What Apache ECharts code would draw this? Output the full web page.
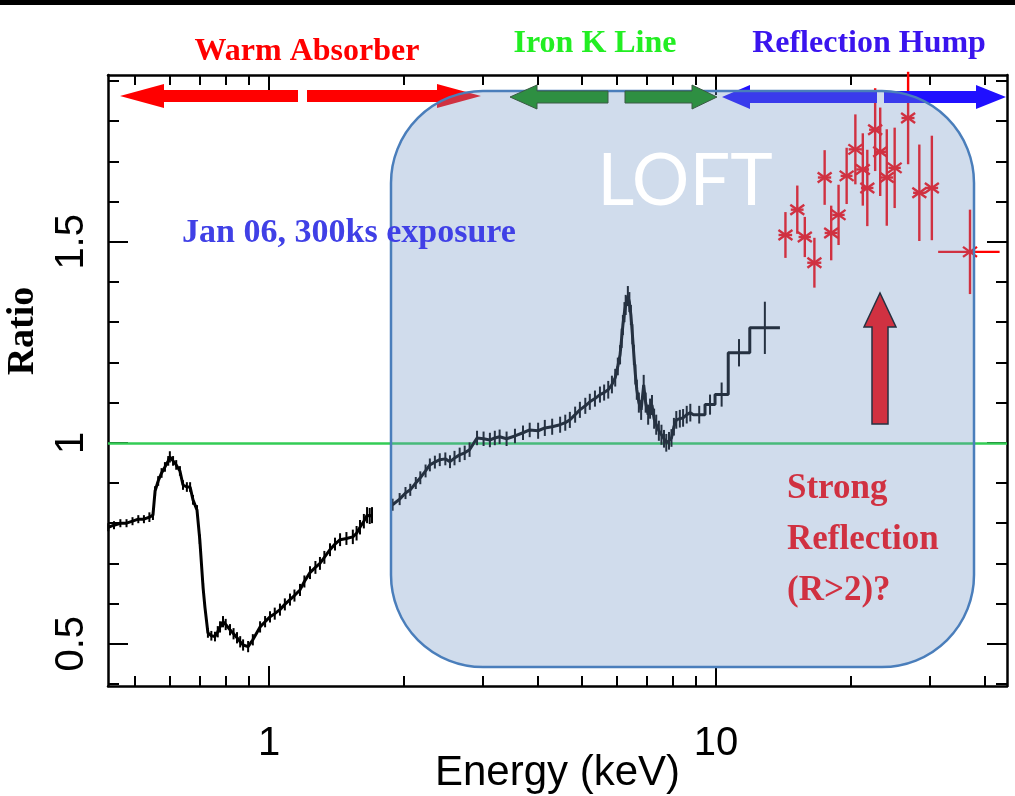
<!DOCTYPE html>
<html lang="en">
<head>
<meta charset="UTF-8">
<script src="https://cdn.jsdelivr.net/npm/echarts@6/dist/echarts.min.js"></script>
<title>Ratio vs Energy</title>
<style>
    html, body { margin: 0; padding: 0; background: #fff; }
    #main { width: 1015px; height: 796px; }
</style>
</head>
<body>
<div id="main"></div>
<script>
    // axis ranges and ticks
    var xMin = 0.4363, xMax = 44.77;
    var yMin = 0.395, yMax = 1.915;
    var xMajorTicks = [1, 10];
    var xMinorTicks = [0.5, 0.6, 0.7, 0.8, 0.9, 2, 3, 4, 5, 6, 7, 8, 9, 20, 30, 40];
    var yMajorTicks = [0.5, 1, 1.5];
    var yMinorTicks = [0.4, 0.6, 0.7, 0.8, 0.9, 1.1, 1.2, 1.3, 1.4, 1.6, 1.7, 1.8, 1.9];

    // soft band spectrum (black)
    var softE = [0.437, 0.45, 0.465, 0.48, 0.495, 0.51, 0.525, 0.54, 0.55, 0.556, 0.565, 0.575, 0.585, 0.595, 0.60,
        0.61, 0.62, 0.632, 0.642, 0.655, 0.666, 0.676, 0.69, 0.70, 0.712, 0.719, 0.73, 0.743, 0.757, 0.768,
        0.777, 0.789, 0.80, 0.818, 0.833, 0.848, 0.862, 0.875, 0.898, 0.92, 0.955, 0.98, 1.005, 1.03, 1.058,
        1.085, 1.114, 1.14, 1.173, 1.2, 1.235, 1.27, 1.3, 1.33, 1.369, 1.405, 1.442, 1.49, 1.54, 1.57,
        1.598, 1.63, 1.657, 1.68, 1.70];
    var softR = [0.79, 0.795, 0.80, 0.80, 0.805, 0.81, 0.81, 0.815, 0.82, 0.88, 0.905, 0.925, 0.94, 0.955, 0.965,
        0.955, 0.945, 0.93, 0.895, 0.89, 0.89, 0.858, 0.833, 0.76, 0.64, 0.59, 0.527, 0.52, 0.518, 0.53,
        0.542, 0.555, 0.548, 0.535, 0.525, 0.515, 0.505, 0.497, 0.493, 0.51, 0.542, 0.555, 0.567, 0.575, 0.585,
        0.598, 0.61, 0.62, 0.634, 0.655, 0.677, 0.69, 0.70, 0.715, 0.734, 0.748, 0.759, 0.762, 0.766, 0.775,
        0.79, 0.805, 0.82, 0.818, 0.82];
    var softErr = [0.01, 0.01, 0.01, 0.01, 0.01, 0.01, 0.01, 0.012, 0.012, 0.012, 0.012, 0.012, 0.012, 0.012, 0.014,
        0.012, 0.012, 0.012, 0.012, 0.012, 0.012, 0.012, 0.012, 0.012, 0.012, 0.012, 0.012, 0.012, 0.012, 0.014,
        0.014, 0.014, 0.014, 0.014, 0.014, 0.014, 0.014, 0.014, 0.014, 0.014, 0.014, 0.014, 0.014, 0.015, 0.015,
        0.015, 0.015, 0.015, 0.015, 0.015, 0.016, 0.016, 0.016, 0.016, 0.016, 0.016, 0.016, 0.016, 0.018, 0.018,
        0.018, 0.018, 0.02, 0.02, 0.02];

    // hard band spectrum (black, seen through the LOFT box)
    var hardE = [1.89, 1.96, 2.02, 2.07, 2.13, 2.18, 2.24, 2.29, 2.35, 2.41, 2.48, 2.54, 2.6, 2.67, 2.74,
        2.81, 2.92, 3.02, 3.12, 3.2, 3.28, 3.4, 3.55, 3.7, 3.83, 4.0, 4.14, 4.3, 4.48, 4.6,
        4.71, 4.84, 4.96, 5.1, 5.22, 5.36, 5.5, 5.62, 5.74, 5.85, 5.95, 6.03, 6.10, 6.15, 6.19,
        6.24, 6.28, 6.35, 6.40, 6.45, 6.50, 6.55, 6.60, 6.65, 6.72, 6.80, 6.89, 6.96, 7.05, 7.12,
        7.19, 7.27, 7.35, 7.45, 7.55, 7.65, 7.74, 7.85, 7.95, 8.05, 8.15, 8.3, 8.44, 8.6, 8.76];
    var hardR = [0.846, 0.86, 0.875, 0.883, 0.9, 0.913, 0.93, 0.945, 0.952, 0.958, 0.96, 0.953, 0.962, 0.97, 0.975,
        0.983, 1.012, 1.01, 1.007, 1.012, 1.015, 1.01, 1.017, 1.025, 1.032, 1.03, 1.037, 1.04, 1.045, 1.05,
        1.057, 1.07, 1.082, 1.092, 1.102, 1.11, 1.12, 1.125, 1.132, 1.145, 1.162, 1.19, 1.219, 1.26, 1.293,
        1.325, 1.343, 1.365, 1.35, 1.318, 1.27, 1.219, 1.17, 1.132, 1.1, 1.082, 1.144, 1.1, 1.07, 1.085,
        1.094, 1.06, 1.045, 1.03, 1.02, 1.01, 1.0, 1.005, 1.012, 1.04, 1.057, 1.06, 1.062, 1.07, 1.075];
    var hardErr = [0.015, 0.015, 0.015, 0.015, 0.015, 0.016, 0.016, 0.016, 0.016, 0.016, 0.016, 0.016, 0.018, 0.018, 0.018,
        0.018, 0.018, 0.018, 0.018, 0.018, 0.018, 0.018, 0.018, 0.018, 0.018, 0.02, 0.02, 0.02, 0.02, 0.02,
        0.02, 0.02, 0.02, 0.02, 0.02, 0.02, 0.02, 0.02, 0.022, 0.022, 0.022, 0.022, 0.024, 0.024, 0.025,
        0.025, 0.025, 0.025, 0.025, 0.025, 0.025, 0.025, 0.025, 0.025, 0.025, 0.025, 0.025, 0.025, 0.025, 0.025,
        0.025, 0.025, 0.025, 0.025, 0.025, 0.022, 0.022, 0.022, 0.022, 0.022, 0.022, 0.022, 0.022, 0.022, 0.022];

    // wide bins at the top of the hard band
    var binLo = [8.9, 9.45, 9.95, 10.65, 11.9];
    var binHi = [9.45, 9.95, 10.65, 11.9, 13.9];
    var binR = [1.07, 1.095, 1.12, 1.224, 1.286];
    var binErr = [0.022, 0.025, 0.03, 0.034, 0.065];

    // high energy points (red)
    var redE = [14.3, 15.2, 15.8, 16.6, 17.5, 18.1, 18.8, 19.6, 20.5, 21.3, 21.8, 22.7, 23.3, 24.1, 25.1, 26.9, 28.5, 30.4, 37.0];
    var redR = [1.517, 1.58, 1.512, 1.448, 1.66, 1.522, 1.567, 1.664, 1.73, 1.68, 1.634, 1.779, 1.724, 1.66, 1.684, 1.808, 1.622, 1.634, 1.475];
    var redErr = [0.057, 0.06, 0.05, 0.062, 0.068, 0.068, 0.075, 0.07, 0.087, 0.09, 0.095, 0.103, 0.11, 0.12, 0.1, 0.115, 0.12, 0.13, 0.105];
    var redLo = [13.8, 14.7, 15.3, 16.0, 16.9, 17.5, 18.2, 19.0, 19.8, 20.6, 21.1, 22.0, 22.6, 23.3, 24.3, 26.0, 27.6, 29.4, 31.4];
    var redHi = [14.8, 15.7, 16.3, 17.2, 18.1, 18.7, 19.4, 20.2, 21.2, 22.0, 22.5, 23.4, 24.0, 24.9, 25.9, 27.8, 29.4, 31.4, 43.1];

    var unityLine = 1;

    // ---- build series data ----
    var softData = softE.map(function (e, i) { return [e, softR[i]]; });
    var hardData = hardE.map(function (e, i) { return [e, hardR[i]]; });
    binLo.forEach(function (lo, i) {
        hardData.push([lo, binR[i]]);
        hardData.push([binHi[i], binR[i]]);
    });
    var errData = [];
    softE.forEach(function (e, i) { errData.push([e, softR[i] - softErr[i], softR[i] + softErr[i]]); });
    hardE.forEach(function (e, i) { errData.push([e, hardR[i] - hardErr[i], hardR[i] + hardErr[i]]); });
    binLo.forEach(function (lo, i) {
        var c = Math.sqrt(lo * binHi[i]);
        errData.push([c, binR[i] - binErr[i], binR[i] + binErr[i]]);
    });
    var redData = redE.map(function (e, i) { return [e, redR[i], redErr[i], redLo[i], redHi[i]]; });

    function renderErr(params, api) {
        var a = api.coord([api.value(0), api.value(1)]);
        var b = api.coord([api.value(0), api.value(2)]);
        return {
            type: 'line',
            shape: { x1: a[0], y1: a[1], x2: b[0], y2: b[1] },
            style: { stroke: '#000', lineWidth: 2 }
        };
    }

    function seg(p, q, st) {
        return { type: 'line', shape: { x1: p[0], y1: p[1], x2: q[0], y2: q[1] }, style: st };
    }

    function renderRed(params, api) {
        var e = api.value(0), r = api.value(1), err = api.value(2);
        var c = api.coord([e, r]);
        var t = api.coord([e, r + err]);
        var b = api.coord([e, r - err]);
        var l = api.coord([api.value(3), r]);
        var h = api.coord([api.value(4), r]);
        var st = { stroke: '#ff0000', lineWidth: 2.4 };
        var sx = 7, sy = 5;
        return {
            type: 'group',
            children: [
                seg(t, b, st),
                seg(l, h, st),
                seg([c[0] - sx, c[1] - sy], [c[0] + sx, c[1] + sy], st),
                seg([c[0] - sx, c[1] + sy], [c[0] + sx, c[1] - sy], st)
            ]
        };
    }

    // ---- annotations ----
    function hArrow(tail, tip, cy, headLen, shaftHalf, headHalf) {
        var dir = tip > tail ? 1 : -1;
        var base = tip - dir * headLen;
        return [[tail, cy - shaftHalf], [base, cy - shaftHalf], [base, cy - headHalf], [tip, cy],
            [base, cy + headHalf], [base, cy + shaftHalf], [tail, cy + shaftHalf]];
    }

    var serifBold = '"Liberation Serif", "Times New Roman", serif';

    function label(text, x, y, size, color, extra) {
        var el = {
            type: 'text', x: x, y: y, z: 120, silent: true,
            style: {
                text: text, fill: color,
                font: 'bold ' + size + 'px ' + serifBold,
                align: 'center', verticalAlign: 'middle',
                textAlign: 'center', textVerticalAlign: 'middle'
            }
        };
        if (extra) { for (var k in extra) { el[k] = extra[k]; } }
        return el;
    }

    var graphics = [
        { type: 'rect', z: 5, silent: true, shape: { x: 0, y: 0, width: 1015, height: 5 }, style: { fill: '#000' } },
        // red arrows (under box)
        { type: 'polygon', z: 40, silent: true, shape: { points: hArrow(298, 120, 96, 44, 6, 12) }, style: { fill: '#ff0000' } },
        { type: 'polygon', z: 40, silent: true, shape: { points: hArrow(307, 481, 96, 44, 6, 12) }, style: { fill: '#ff0000' } },
        // blue arrows (under box)
        { type: 'polygon', z: 40, silent: true, shape: { points: hArrow(877, 722, 97, 28, 6, 12) }, style: { fill: '#2010ff' } },
        { type: 'polygon', z: 40, silent: true, shape: { points: hArrow(884, 1006, 97, 30, 6, 12) }, style: { fill: '#2010ff' } },
        // big up arrow
        {
            type: 'polygon', z: 40, silent: true,
            shape: { points: [[872, 424], [872, 327], [864, 327], [880, 293], [896, 327], [888, 327], [888, 424]] },
            style: { fill: '#ff0000', stroke: '#000', lineWidth: 1.5 }
        },
        {
            type: 'text', x: 787, y: 463, z: 40, silent: true,
            style: {
                text: 'Strong\nReflection\n(R>2)?', fill: '#ff0000',
                font: 'bold 35px ' + serifBold, lineHeight: 51,
                align: 'left', verticalAlign: 'top', textAlign: 'left', textVerticalAlign: 'top'
            }
        },
        // LOFT box
        {
            type: 'rect', z: 50, silent: true,
            shape: { x: 391, y: 91, width: 583, height: 576, r: 92 },
            style: { fill: 'rgba(112,148,197,0.33)', stroke: '#4a7ebb', lineWidth: 2.5 }
        },
        // green arrows (on top)
        { type: 'polygon', z: 60, silent: true, shape: { points: hArrow(608, 510, 97, 27, 6, 12) }, style: { fill: '#2e8f42', stroke: '#3a5a44', lineWidth: 1 } },
        { type: 'polygon', z: 60, silent: true, shape: { points: hArrow(625, 717, 97, 25, 6, 12) }, style: { fill: '#2e8f42', stroke: '#3a5a44', lineWidth: 1 } },
        {
            type: 'text', x: 685, y: 182, z: 60, silent: true,
            style: {
                text: 'LOFT', fill: '#ffffff', font: '72px Lato, "Open Sans", sans-serif',
                align: 'center', verticalAlign: 'middle', textAlign: 'center', textVerticalAlign: 'middle'
            }
        },
        label('Warm Absorber', 307, 52, 32, '#ff0000'),
        label('Iron K Line', 595, 44, 32, '#22ee22'),
        label('Reflection Hump', 869, 44, 32, '#3a14ee'),
        label('Jan 06, 300ks exposure', 349, 233, 34, '#4040e6'),
        label('Ratio', 23, 331, 38, '#000', { rotation: Math.PI / 2 })
    ];

    // ---- axes ----
    var axisFont = '"Liberation Sans", Arial, sans-serif';
    function xAxisDef(pos, ticks, len, withLabels, showLine) {
        return {
            type: 'log', logBase: 10, position: pos, min: xMin, max: xMax,
            axisLine: { show: showLine, onZero: false, lineStyle: { color: '#000', width: 2.5 } },
            axisTick: { show: true, inside: true, length: len, customValues: ticks, lineStyle: { color: '#000', width: 2 } },
            axisLabel: withLabels
                ? { show: true, customValues: xMajorTicks, fontSize: 40, fontFamily: axisFont, color: '#000', margin: 38 }
                : { show: false },
            splitLine: { show: false },
            minorTick: { show: false }
        };
    }
    function yAxisDef(pos, ticks, len, withLabels, showLine) {
        return {
            type: 'value', position: pos, min: yMin, max: yMax,
            axisLine: { show: showLine, onZero: false, lineStyle: { color: '#000', width: 2.5 } },
            axisTick: { show: true, inside: true, length: len, customValues: ticks, lineStyle: { color: '#000', width: 2 } },
            axisLabel: withLabels
                ? { show: true, customValues: yMajorTicks, rotate: 90, fontSize: 40, fontFamily: axisFont, color: '#000', margin: 16 }
                : { show: false },
            splitLine: { show: false }
        };
    }

    var xAxes = [
        xAxisDef('bottom', xMajorTicks, 20, true, true),
        xAxisDef('bottom', xMinorTicks, 10, false, false),
        xAxisDef('top', xMajorTicks, 20, false, true),
        xAxisDef('top', xMinorTicks, 10, false, false)
    ];
    xAxes[0].name = 'Energy (keV)';
    xAxes[0].nameLocation = 'middle';
    xAxes[0].nameGap = 66;
    xAxes[0].nameMoveOverlap = false;
    xAxes[0].nameTextStyle = { fontSize: 42, fontFamily: axisFont, color: '#000' };

    var yAxes = [
        yAxisDef('left', yMajorTicks, 20, true, true),
        yAxisDef('left', yMinorTicks, 11, false, false),
        yAxisDef('right', yMajorTicks, 20, false, true),
        yAxisDef('right', yMinorTicks, 11, false, false)
    ];

    var chart = echarts.init(document.getElementById('main'), null, { renderer: 'canvas' });
    chart.setOption({
        animation: false,
        backgroundColor: '#fff',
        grid: { left: 108, right: 8, top: 75, bottom: 110, containLabel: false, outerBoundsMode: 'none' },
        xAxis: xAxes,
        yAxis: yAxes,
        graphic: { elements: graphics },
        series: [
            {
                name: 'soft', type: 'line', data: softData, symbol: 'none', z: 3,
                lineStyle: { color: '#000', width: 3 },
                markLine: {
                    silent: true, symbol: 'none', label: { show: false }, z: 2,
                    lineStyle: { color: '#33cc55', width: 2.5, type: 'solid' },
                    data: [{ yAxis: unityLine }]
                }
            },
            {
                name: 'hard', type: 'line', data: hardData, symbol: 'none', z: 3,
                lineStyle: { color: '#000', width: 3 }
            },
            {
                name: 'errors', type: 'custom', data: errData, z: 3,
                encode: { x: 0, y: [1, 2] },
                renderItem: renderErr
            },
            {
                name: 'high', type: 'custom', data: redData, z: 4,
                encode: { x: 0, y: 1 },
                renderItem: renderRed
            }
        ]
    });
</script>
</body>
</html>
